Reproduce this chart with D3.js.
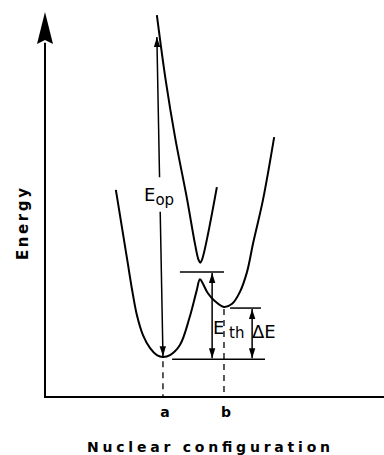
<!DOCTYPE html>
<html>
<head>
<meta charset="utf-8">
<script src="https://cdn.jsdelivr.net/npm/d3@7"></script>
<style>
  html, body { margin: 0; padding: 0; background: #fff; }
  svg { display: block; }
  text { font-family: "DejaVu Sans", sans-serif; fill: #000; }
</style>
</head>
<body>
<div id="chart"></div>
<script>
// Configuration coordinate (x) and energy (y), both on a 0-100 scale
const groundCurve = [
  [20.9, 53.8], [22.1, 47.3], [23.3, 40.8], [24.5, 34.3], [25.7, 27.8],
  [27.1, 21.3], [28.9, 16.1], [31.0, 12.7], [33.0, 10.9], [34.8, 10.4],
  [36.9, 10.9], [39.8, 13.5], [42.6, 20.5], [44.7, 27.5], [45.7, 30.6],
  [46.6, 29.4], [48.0, 27.0], [50.0, 25.0], [52.8, 23.4], [55.2, 24.2],
  [57.5, 27.3], [59.6, 32.5], [61.4, 40.0], [64.3, 51.2], [67.6, 67.5]
];
const excitedCurve = [
  [33.0, 99.2], [35.6, 82.3], [38.4, 67.3], [41.8, 51.9], [44.3, 39.5],
  [45.3, 35.6], [45.8, 34.9], [46.3, 35.6], [50.7, 54.5]
];
const levels = [
  { y: 32.5, x0: 39.8, x1: 52.8 },   // barrier top
  { y: 23.1, x0: 54.6, x1: 63.7 },   // minimum b
  { y: 9.8,  x0: 37.5, x1: 64.9 }    // minimum a
];
const gaps = [
  { x: 49.3, y0: 9.8, y1: 32.5 },    // E_th
  { x: 61.1, y0: 9.8, y1: 23.1 }     // ΔE
];
const opticalArrow = { x0: 34.8, y0: 10.6, x1: 33.0, y1: 93.5, gapLo: 48.1, gapHi: 57.1 };
const positions = [
  { label: 'a', x: 34.8, top: 9.8 },
  { label: 'b', x: 52.8, top: 23.4 }
];

const width = 384, height = 455;
const x = d3.scaleLinear().domain([0, 100]).range([45, 384]);
const y = d3.scaleLinear().domain([0, 100]).range([397, 12]);

const svg = d3.select('#chart').append('svg')
  .attr('width', width)
  .attr('height', height);

const defs = svg.append('defs');
defs.append('marker')
  .attr('id', 'head')
  .attr('markerUnits', 'userSpaceOnUse')
  .attr('viewBox', '0 -4 10 8')
  .attr('refX', 10).attr('refY', 0)
  .attr('markerWidth', 10).attr('markerHeight', 8)
  .attr('orient', 'auto-start-reverse')
  .append('path')
  .attr('d', 'M0,-3.2L10,0L0,3.2Z')
  .attr('fill', '#000');

// axes
svg.append('line')
  .attr('x1', x(0)).attr('y1', y(0))
  .attr('x2', x(0)).attr('y2', y(92))
  .attr('stroke', '#000').attr('stroke-width', 2);
svg.append('line')
  .attr('x1', x(0) - 1).attr('y1', y(0))
  .attr('x2', x(100)).attr('y2', y(0))
  .attr('stroke', '#000').attr('stroke-width', 2);
// big arrowhead on energy axis
svg.append('path')
  .attr('d', `M${x(0)},${y(100)}L${x(0) + 8},${y(100) + 32}L${x(0)},${y(100) + 28}L${x(0) - 8},${y(100) + 32}Z`)
  .attr('fill', '#000');

const line = d3.line()
  .x(d => x(d[0]))
  .y(d => y(d[1]))
  .curve(d3.curveCatmullRom.alpha(0.5));

svg.append('path')
  .attr('d', line(groundCurve))
  .attr('fill', 'none').attr('stroke', '#000').attr('stroke-width', 2);
svg.append('path')
  .attr('d', line(excitedCurve))
  .attr('fill', 'none').attr('stroke', '#000').attr('stroke-width', 2);

// energy levels
svg.selectAll('line.level')
  .data(levels)
  .join('line')
  .attr('class', 'level')
  .attr('x1', d => x(d.x0)).attr('x2', d => x(d.x1))
  .attr('y1', d => y(d.y)).attr('y2', d => y(d.y))
  .attr('stroke', '#000').attr('stroke-width', 1.5);

// double-headed gap arrows
svg.selectAll('line.gap')
  .data(gaps)
  .join('line')
  .attr('class', 'gap')
  .attr('x1', d => x(d.x)).attr('x2', d => x(d.x))
  .attr('y1', d => y(d.y0) - 1).attr('y2', d => y(d.y1) + 1)
  .attr('stroke', '#000').attr('stroke-width', 1.5)
  .attr('marker-start', 'url(#head)')
  .attr('marker-end', 'url(#head)');

// optical transition, broken around its label
const oa = opticalArrow;
const xAt = v => oa.x0 + (oa.x1 - oa.x0) * (v - oa.y0) / (oa.y1 - oa.y0);
svg.append('line')
  .attr('x1', x(xAt(oa.gapLo))).attr('y1', y(oa.gapLo))
  .attr('x2', x(oa.x0)).attr('y2', y(oa.y0))
  .attr('stroke', '#000').attr('stroke-width', 1.5)
  .attr('marker-end', 'url(#head)');
svg.append('line')
  .attr('x1', x(xAt(oa.gapHi))).attr('y1', y(oa.gapHi))
  .attr('x2', x(oa.x1)).attr('y2', y(oa.y1))
  .attr('stroke', '#000').attr('stroke-width', 1.5)
  .attr('marker-end', 'url(#head)');

// dashed drop lines to the configuration axis
svg.selectAll('line.drop')
  .data(positions)
  .join('line')
  .attr('class', 'drop')
  .attr('x1', d => x(d.x)).attr('x2', d => x(d.x))
  .attr('y1', d => y(d.top) + 2).attr('y2', y(0))
  .attr('stroke', '#000').attr('stroke-width', 1.3)
  .attr('stroke-dasharray', '6,5');

svg.selectAll('text.pos')
  .data(positions)
  .join('text')
  .attr('class', 'pos')
  .attr('x', d => x(d.x) + 2).attr('y', y(0) + 20)
  .attr('text-anchor', 'middle')
  .attr('font-size', 14).attr('font-weight', 'bold')
  .text(d => d.label);

// labels
const eop = svg.append('text').attr('x', 144).attr('y', 201).attr('font-size', 18);
eop.append('tspan').text('E');
eop.append('tspan').attr('dy', 4).attr('font-size', 15).text('op');

const eth = svg.append('text').attr('x', 213).attr('y', 334).attr('font-size', 18);
eth.append('tspan').text('E');
eth.append('tspan').attr('x', 229).attr('dy', 4).attr('font-size', 15).text('th');

svg.append('text').attr('x', 252).attr('y', 338).attr('font-size', 18).text('ΔE');

svg.append('text')
  .attr('x', 87).attr('y', 452)
  .attr('font-size', 14).attr('font-weight', 'bold')
  .attr('textLength', 243).attr('lengthAdjust', 'spacing')
  .text('Nuclear  configuration');

svg.append('text')
  .attr('transform', 'translate(28,260) rotate(-90)')
  .attr('font-size', 15).attr('font-weight', 'bold')
  .attr('textLength', 72).attr('lengthAdjust', 'spacing')
  .text('Energy');
</script>
</body>
</html>
